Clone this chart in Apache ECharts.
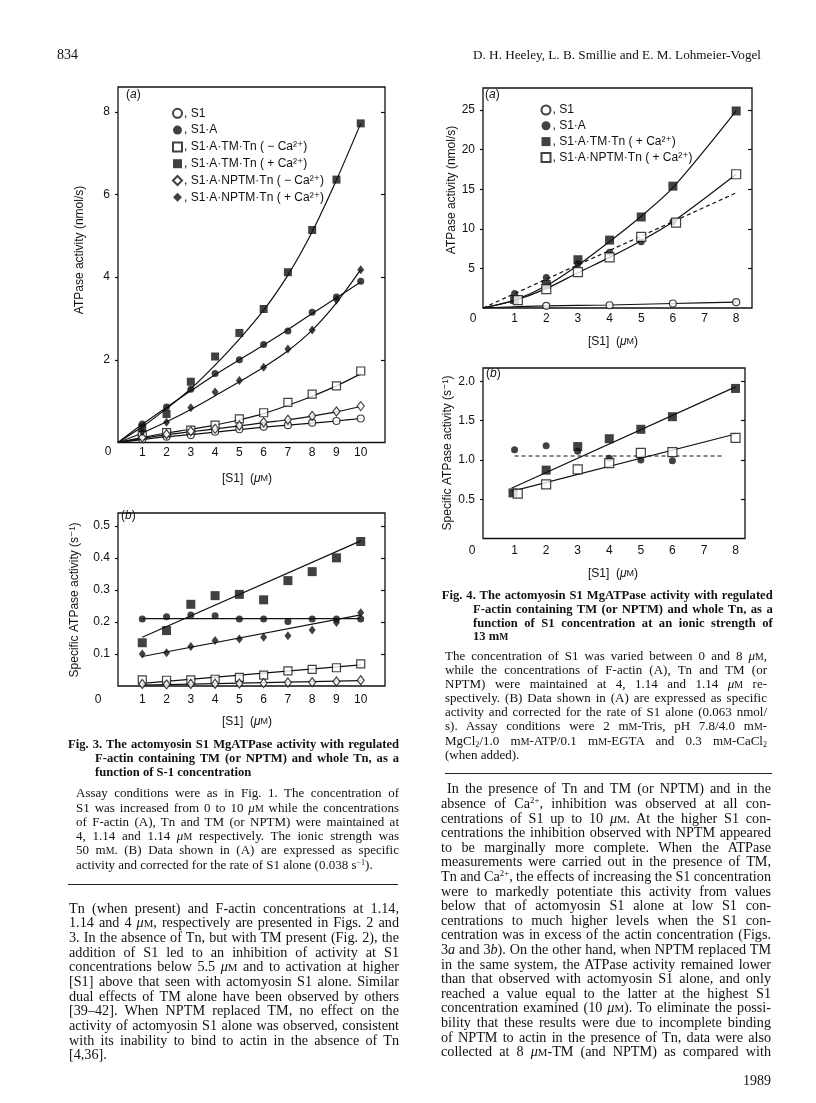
<!DOCTYPE html>
<html>
<head>
<meta charset="utf-8">
<script src="https://cdn.jsdelivr.net/npm/echarts@6/dist/echarts.min.js"></script>
<style>
html, body { margin: 0; padding: 0; background: #fff; }
#page { position: relative; width: 816px; height: 1103px; overflow: hidden; }
#chart { position: absolute; left: 0; top: 0; width: 816px; height: 1103px; }
#text { position: absolute; left: 0; top: 0; width: 816px; height: 1103px; pointer-events: none;
        font-family: "Liberation Serif", "DejaVu Serif", serif; color: #111; }
.ln { position: absolute; white-space: nowrap; }
.sc { font-size: 0.76em; }
sup { font-size: 0.62em; vertical-align: 0.55em; line-height: 0; }
sub { font-size: 0.62em; vertical-align: -0.3em; line-height: 0; }
.rule { position: absolute; height: 0; border-top: 1.5px solid #222; }
</style>
</head>
<body>
<div id="page">
  <div id="chart"></div>
  <div id="text"></div>
</div>
<script>
// ---------- Fig. 3(a): ATPase activity (nmol/s) vs [S1] ----------
const f3aS1    = [[1,0.08],[2,0.14],[3,0.18],[4,0.26],[5,0.32],[6,0.38],[7,0.42],[8,0.48],[9,0.52],[10,0.58]];
const f3aS1A   = [[1,0.45],[2,0.86],[3,1.29],[4,1.67],[5,2.0],[6,2.37],[7,2.70],[8,3.15],[9,3.52],[10,3.90]];
const f3aTMm   = [[1,0.17],[2,0.24],[3,0.30],[4,0.42],[5,0.57],[6,0.72],[7,0.97],[8,1.17],[9,1.37],[10,1.73]];
const f3aTMp   = [[1,0.36],[2,0.69],[3,1.47],[4,2.08],[5,2.65],[6,3.23],[7,4.12],[8,5.14],[9,6.36],[10,7.72]];
const f3aNPm   = [[1,0.12],[2,0.20],[3,0.27],[4,0.33],[5,0.41],[6,0.49],[7,0.55],[8,0.64],[9,0.75],[10,0.88]];
const f3aNPp   = [[1,0.26],[2,0.49],[3,0.84],[4,1.22],[5,1.50],[6,1.82],[7,2.26],[8,2.72],[9,3.45],[10,4.18]];
// curves as drawn in the figure
const c3aS1  = [[0,0],[1,0.07],[2,0.14],[3,0.19],[4,0.25],[5,0.31],[6,0.37],[7,0.42],[8,0.47],[9,0.52],[10,0.58]];
const c3aS1A = [[0,0],[1,0.44],[2,0.85],[3,1.25],[4,1.64],[5,2.0],[6,2.36],[7,2.73],[8,3.12],[9,3.5],[10,3.88]];
const c3aTMm = [[0,0],[1,0.12],[2,0.23],[3,0.32],[4,0.42],[5,0.55],[6,0.7],[7,0.9],[8,1.12],[9,1.37],[10,1.66]];
const c3aTMp = [[0,0],[1,0.38],[2,0.82],[3,1.3],[4,1.87],[5,2.5],[6,3.2],[7,4.05],[8,5.1],[9,6.35],[10,7.72]];
const c3aNPm = [[0,0],[1,0.1],[2,0.19],[3,0.26],[4,0.33],[5,0.4],[6,0.48],[7,0.55],[8,0.64],[9,0.74],[10,0.87]];
const c3aNPp = [[0,0],[1,0.23],[2,0.5],[3,0.8],[4,1.13],[5,1.47],[6,1.82],[7,2.22],[8,2.72],[9,3.38],[10,4.18]];

// ---------- Fig. 3(b): specific activity (s-1) ----------
const f3bS1A = [[1,0.209],[2,0.216],[3,0.222],[4,0.219],[5,0.209],[6,0.209],[7,0.201],[8,0.209],[9,0.209],[10,0.209]];
const f3bTMm = [[1,0.019],[2,0.018],[3,0.019],[4,0.021],[5,0.027],[6,0.034],[7,0.047],[8,0.052],[9,0.057],[10,0.069]];
const f3bTMp = [[1,0.135],[2,0.173],[3,0.255],[4,0.282],[5,0.286],[6,0.269],[7,0.329],[8,0.357],[9,0.40],[10,0.451]];
const f3bNPm = [[1,0.006],[2,0.005],[3,0.006],[4,0.007],[5,0.008],[6,0.009],[7,0.011],[8,0.012],[9,0.014],[10,0.018]];
const f3bNPp = [[1,0.10],[2,0.104],[3,0.123],[4,0.142],[5,0.147],[6,0.152],[7,0.157],[8,0.175],[9,0.198],[10,0.229]];
const l3bS1A = [[1,0.21],[10,0.21]];
const l3bTMm = [[1,0.008],[10,0.066]];
const l3bTMp = [[1,0.152],[10,0.453]];
const l3bNPm = [[1,0.003],[10,0.017]];
const l3bNPp = [[1,0.092],[10,0.222]];

// ---------- Fig. 4(a) ----------
const f4aS1  = [[2,0.27],[4,0.35],[6,0.57],[8,0.73]];
const f4aS1A = [[1,1.83],[2,3.86],[3,5.6],[4,7.06],[5,8.37],[6,10.9]];
const f4aTMp = [[1,1.07],[2,2.97],[3,6.1],[4,8.58],[5,11.5],[6,15.4],[8,24.9]];
const f4aNPp = [[1.1,0.99],[2,2.38],[3,4.53],[4,6.39],[5,9.0],[6.1,10.8],[8,16.9]];
const c4aS1  = [[0,0],[2,0.27],[4,0.38],[6,0.57],[8,0.73]];
const c4aS1A = [[0,0],[8,14.55]];
const c4aTMp = [[0,0],[1,1.0],[2,2.8],[3,5.4],[4,8.4],[5,11.6],[6,15.2],[8,24.9]];
const c4aNPp = [[0,0],[1,0.95],[2,2.45],[3,4.45],[4,6.4],[5,8.5],[6,10.9],[8,16.9]];

// ---------- Fig. 4(b) ----------
const f4bS1A = [[1,1.13],[2,1.18],[3,1.11],[4,1.02],[5,1.0],[6,0.99]];
const f4bTMp = [[0.95,0.58],[2,0.87],[3,1.17],[4,1.27],[5,1.39],[6,1.55],[8,1.91]];
const f4bNPp = [[1.1,0.57],[2,0.69],[3,0.88],[4,0.96],[5,1.09],[6,1.1],[8,1.28]];
const l4bS1A = [[1,1.05],[7.6,1.05]];
const l4bTMp = [[0.9,0.64],[8,1.93]];
const l4bNPp = [[0.9,0.6],[8,1.33]];

// tick labels
const x3Ticks  = [1,2,3,4,5,6,7,8,9,10];
const x4Ticks  = [1,2,3,4,5,6,7,8];
const y3aTicks = [2,4,6,8];
const y3bTicks = [0.1,0.2,0.3,0.4,0.5];
const y4aTicks = [5,10,15,20,25];
const y4bTicks = [0.5,1.0,1.5,2.0];

const ink = '#111';
const SANS = '"Liberation Sans", "DejaVu Sans", Arial, sans-serif';

function xAx(g, max, ticks, margin) {
  return {
    type: 'value', gridIndex: g, min: 0, max: max, interval: 1,
    axisLine: {show: false}, splitLine: {show: false},
    axisTick: {show: false},
    axisLabel: {customValues: ticks, margin: margin, color: ink, fontFamily: SANS, fontSize: 12,
      formatter: v => String(v)}
  };
}
function yAx(g, max, step, ticks, dec, right) {
  return {
    type: 'value', gridIndex: g, min: 0, max: max, interval: step, position: right ? 'right' : 'left',
    axisLine: {show: false}, splitLine: {show: false},
    axisTick: {show: true, customValues: ticks, inside: !!right, length: right ? 4 : 3,
      lineStyle: {color: ink, width: 1.2}},
    axisLabel: right ? {show: false} : {customValues: ticks, margin: 8, color: ink, fontFamily: SANS,
      fontSize: 12, formatter: v => v.toFixed(dec)}
  };
}

function pts(name, data, g, sym, size, empty) {
  return {
    type: 'scatter', name: name, data: data, xAxisIndex: g, yAxisIndex: g,
    symbol: sym, symbolSize: size, z: 5, silent: true,
    itemStyle: empty ? {color: '#fff', borderColor: ink, borderWidth: 1.2} : {color: ink}
  };
}
function curve(data, g, dashed, smooth) {
  return {
    type: 'line', data: data, xAxisIndex: g, yAxisIndex: g, symbol: 'none',
    smooth: smooth ? 0.3 : false, silent: true, z: 3,
    lineStyle: {color: ink, width: 1.2, type: dashed ? [4, 3] : 'solid'}
  };
}

function label(x, y, text, extra) {
  return Object.assign({
    type: 'text', x: x, y: y, silent: true,
    style: {
      text: text, fill: ink, fontFamily: SANS, fontSize: 12, align: 'center', verticalAlign: 'middle',
      rich: {i: {fontStyle: 'italic', fontFamily: SANS, fontSize: 12}, s: {fontSize: 9, fontFamily: SANS}}
    }
  }, extra || {});
}
function leftLabel(x, y, text) {
  const el = label(x, y, text);
  el.style.align = 'left';
  return el;
}
function yName(x, y, text) {
  return label(x, y, text, {rotation: Math.PI / 2});
}

const legendText = {fontSize: 12, fontFamily: SANS, color: ink, lineHeight: 14, padding: [0, 0, 0, -3]};
const grids = [
  {left: 118, top: 87,  width: 267, height: 355.5},
  {left: 118, top: 513, width: 267, height: 173},
  {left: 483, top: 88,  width: 269, height: 220},
  {left: 483, top: 368, width: 262, height: 170.5}
];
grids.forEach(g => { g.show = true; g.borderColor = ink; g.borderWidth = 1.3; g.backgroundColor = 'transparent'; });

const option = {
  animation: false,
  backgroundColor: '#fff',
  grid: grids,
  xAxis: [xAx(0, 11, x3Ticks, 4.5), xAx(1, 11, x3Ticks, 8), xAx(2, 8.5, x4Ticks, 5), xAx(3, 8.3, x4Ticks, 6)],
  yAxis: [
    yAx(0, 8.6, 2, y3aTicks, 0), yAx(1, 0.54, 0.1, y3bTicks, 1), yAx(2, 27.8, 5, y4aTicks, 0), yAx(3, 2.17, 0.5, y4bTicks, 1),
    yAx(0, 8.6, 2, y3aTicks, 0, true), yAx(1, 0.54, 0.1, y3bTicks, 1, true), yAx(2, 27.8, 5, y4aTicks, 0, true), yAx(3, 2.17, 0.5, y4bTicks, 1, true)
  ],
  legend: [
    {
      left: 172, top: 106.3, orient: 'vertical', padding: 0, itemWidth: 9, itemHeight: 9, itemGap: 2.8,
      selectedMode: false, textStyle: legendText, formatter: n => ', ' + n.split('|')[1],
      data: [
        {name: '3a|S1', icon: 'circle'},
        {name: '3a|S1·A', icon: 'circle'},
        {name: '3a|S1·A·TM·Tn ( − Ca²⁺)', icon: 'rect'},
        {name: '3a|S1·A·TM·Tn ( + Ca²⁺)', icon: 'rect'},
        {name: '3a|S1·A·NPTM·Tn ( − Ca²⁺)', icon: 'diamond'},
        {name: '3a|S1·A·NPTM·Tn ( + Ca²⁺)', icon: 'diamond'}
      ]
    },
    {
      left: 540.5, top: 103, orient: 'vertical', padding: 0, itemWidth: 9, itemHeight: 9, itemGap: 1.8,
      selectedMode: false, textStyle: legendText, formatter: n => ', ' + n.split('|')[1],
      data: [
        {name: '4a|S1', icon: 'circle'},
        {name: '4a|S1·A', icon: 'circle'},
        {name: '4a|S1·A·TM·Tn ( + Ca²⁺)', icon: 'rect'},
        {name: '4a|S1·A·NPTM·Tn ( + Ca²⁺)', icon: 'rect'}
      ]
    }
  ],
  series: [
    curve(c3aS1, 0, false, true), curve(c3aS1A, 0, false, true), curve(c3aTMm, 0, false, true),
    curve(c3aTMp, 0, false, true), curve(c3aNPm, 0, false, true), curve(c3aNPp, 0, false, true),
    pts('3a|S1', f3aS1, 0, 'circle', 7, true),
    pts('3a|S1·A', f3aS1A, 0, 'circle', 7, false),
    pts('3a|S1·A·TM·Tn ( − Ca²⁺)', f3aTMm, 0, 'rect', 8, true),
    pts('3a|S1·A·TM·Tn ( + Ca²⁺)', f3aTMp, 0, 'rect', 8, false),
    pts('3a|S1·A·NPTM·Tn ( − Ca²⁺)', f3aNPm, 0, 'diamond', [7, 9], true),
    pts('3a|S1·A·NPTM·Tn ( + Ca²⁺)', f3aNPp, 0, 'diamond', [7, 9], false),

    curve(l3bS1A, 1), curve(l3bTMm, 1), curve(l3bTMp, 1), curve(l3bNPm, 1), curve(l3bNPp, 1),
    pts('3b|S1·A', f3bS1A, 1, 'circle', 7, false),
    pts('3b|TM−', f3bTMm, 1, 'rect', 8, true),
    pts('3b|TM+', f3bTMp, 1, 'rect', 9, false),
    pts('3b|NPTM−', f3bNPm, 1, 'diamond', [7, 9], true),
    pts('3b|NPTM+', f3bNPp, 1, 'diamond', [7, 9], false),

    curve(c4aS1, 2, false, true), curve(c4aS1A, 2, true), curve(c4aTMp, 2, false, true), curve(c4aNPp, 2, false, true),
    pts('4a|S1', f4aS1, 2, 'circle', 7, true),
    pts('4a|S1·A', f4aS1A, 2, 'circle', 7, false),
    pts('4a|S1·A·TM·Tn ( + Ca²⁺)', f4aTMp, 2, 'rect', 9, false),
    pts('4a|S1·A·NPTM·Tn ( + Ca²⁺)', f4aNPp, 2, 'rect', 9, true),

    curve(l4bS1A, 3, true), curve(l4bTMp, 3), curve(l4bNPp, 3),
    pts('4b|S1·A', f4bS1A, 3, 'circle', 7, false),
    pts('4b|TM+', f4bTMp, 3, 'rect', 9, false),
    pts('4b|NPTM+', f4bNPp, 3, 'rect', 9, true)
  ],
  graphic: [
    leftLabel(126, 95, '({i|a})'), leftLabel(121, 516, '({i|b})'),
    leftLabel(485, 95, '({i|a})'), leftLabel(486, 374, '({i|b})'),
    label(108, 452, '0'), label(98, 700, '0'), label(473, 319, '0'), label(472, 551, '0'),
    label(247, 479, '[S1]  ({i|μ}{s|M})'), label(247, 722, '[S1]  ({i|μ}{s|M})'),
    label(613, 342, '[S1]  ({i|μ}{s|M})'), label(613, 574, '[S1]  ({i|μ}{s|M})'),
    yName(80, 250, 'ATPase activity (nmol/s)'), yName(75, 600, 'Specific ATPase activity (s⁻¹)'),
    yName(452, 190, 'ATPase activity (nmol/s)'), yName(448, 453, 'Specific ATPase activity (s⁻¹)')
  ]
};

const chart = echarts.init(document.getElementById('chart'), null, {renderer: 'canvas'});
chart.setOption(option);

// ---------- page text ----------
const UM = '<i>μ</i><span class="sc">M</span>';
const MM = 'm<span class="sc">M</span>';
const CA = 'Ca<sup>2+</sup>';

// x, width, first line centre y, line step, font px, bold, justify last line, lines
const blocks = [
  {x: 57, w: 0, y: 55, step: 14, size: 14, lines: ['834']},
  {x: 473, w: 288, y: 55, step: 14, size: 13.2, last: true, lines: ['D. H. Heeley, L. B. Smillie and E. M. Lohmeier-Vogel']},
  {x: 68, w: 331, y: 745, step: 14, size: 12.6, bold: true, last: true,
    lines: ['Fig. 3. The actomyosin S1 MgATPase activity with regulated']},
  {x: 95, w: 304, y: 759, step: 13.9, size: 12.6, bold: true,
    lines: ['F-actin containing TM (or NPTM) and whole Tn, as a', 'function of S-1 concentration']},
  {x: 76, w: 323, y: 793, step: 14.3, size: 13, lines: [
    'Assay conditions were as in Fig. 1. The concentration of',
    'S1 was increased from 0 to 10 ' + UM + ' while the concentrations',
    'of F-actin (A), Tn and TM (or NPTM) were maintained at',
    '4, 1.14 and 1.14 ' + UM + ' respectively. The ionic strength was',
    '50 ' + MM + '. (B) Data shown in (A) are expressed as specific',
    'activity and corrected for the rate of S1 alone (0.038 s<sup>−1</sup>).'
  ]},
  {x: 69, w: 330, y: 908.3, step: 14.67, size: 14.2, lines: [
    'Tn (when present) and F-actin concentrations at 1.14,',
    '1.14 and 4 ' + UM + ', respectively are presented in Figs. 2 and',
    '3. In the absence of Tn, but with TM present (Fig. 2), the',
    'addition of S1 led to an inhibition of activity at S1',
    'concentrations below 5.5 ' + UM + ' and to activation at higher',
    '[S1] above that seen with actomyosin S1 alone. Similar',
    'dual effects of TM alone have been observed by others',
    '[39–42]. When NPTM replaced TM, no effect on the',
    'activity of actomyosin S1 alone was observed, consistent',
    'with its inability to bind to actin in the absence of Tn',
    '[4,36].'
  ]},
  {x: 441.7, w: 331, y: 596, step: 13.6, size: 12.6, bold: true, last: true,
    lines: ['Fig. 4. The actomyosin S1 MgATPase activity with regulated']},
  {x: 473, w: 299.7, y: 609.6, step: 13.6, size: 12.6, bold: true, lines: [
    'F-actin containing TM (or NPTM) and whole Tn, as a',
    'function of S1 concentration at an ionic strength of',
    '13 ' + MM
  ]},
  {x: 445, w: 322, y: 655.7, step: 14.1, size: 13, lines: [
    'The concentration of S1 was varied between 0 and 8 ' + UM + ',',
    'while the concentrations of F-actin (A), Tn and TM (or',
    'NPTM) were maintained at 4, 1.14 and 1.14 ' + UM + ' re-',
    'spectively. (B) Data shown in (A) are expressed as specific',
    'activity and corrected for the rate of S1 alone (0.063 nmol/',
    's). Assay conditions were 2 ' + MM + '-Tris, pH 7.8/4.0 ' + MM + '-',
    'MgCl<sub>2</sub>/1.0 ' + MM + '-ATP/0.1 ' + MM + '-EGTA and 0.3 ' + MM + '-CaCl<sub>2</sub>',
    '(when added).'
  ]},
  {x: 441, w: 330, y: 789, step: 14.6, size: 14.2, last: true, indent: 6, lines: [
    'In the presence of Tn and TM (or NPTM) and in the',
    'absence of ' + CA + ', inhibition was observed at all con-',
    'centrations of S1 up to 10 ' + UM + '. At the higher S1 con-',
    'centrations the inhibition observed with NPTM appeared',
    'to be marginally more complete. When the ATPase',
    'measurements were carried out in the presence of TM,',
    'Tn and ' + CA + ', the effects of increasing the S1 concentration',
    'were to markedly potentiate this activity from values',
    'below that of actomyosin S1 alone at low S1 con-',
    'centrations to much higher levels when the S1 con-',
    'centration was in excess of the actin concentration (Figs.',
    '3<i>a</i> and 3<i>b</i>). On the other hand, when NPTM replaced TM',
    'in the same system, the ATPase activity remained lower',
    'than that observed with actomyosin S1 alone, and only',
    'reached a value equal to the latter at the highest S1',
    'concentration examined (10 ' + UM + '). To eliminate the possi-',
    'bility that these results were due to incomplete binding',
    'of NPTM to actin in the presence of Tn, data were also',
    'collected at 8 ' + UM + '-TM (and NPTM) as compared with'
  ]}
];

const holder = document.getElementById('text');
blocks.forEach(b => {
  b.lines.forEach((html, i) => {
    const div = document.createElement('div');
    div.className = 'ln';
    const x = b.x + (i === 0 && b.indent ? b.indent : 0);
    const w = b.w ? b.w - (i === 0 && b.indent ? b.indent : 0) : 0;
    div.style.left = x + 'px';
    div.style.top = (b.y + i * b.step - 0.6 * b.size) + 'px';
    div.style.fontSize = b.size + 'px';
    div.style.lineHeight = (1.2 * b.size) + 'px';
    if (b.bold) div.style.fontWeight = 'bold';
    const span = document.createElement('span');
    span.innerHTML = html;
    div.appendChild(span);
    holder.appendChild(div);
    const isLast = i === b.lines.length - 1;
    if (w && (!isLast || b.last)) {
      const nat = span.getBoundingClientRect().width;
      const spaces = (span.textContent.match(/ /g) || []).length;
      if (spaces) span.style.wordSpacing = ((w - nat) / spaces) + 'px';
    }
  });
});

const yr = document.createElement('div');
yr.className = 'ln';
yr.style.left = '720px';
yr.style.width = '51px';
yr.style.textAlign = 'right';
yr.style.fontSize = '14px';
yr.style.lineHeight = '16.8px';
yr.style.top = (1081.7 - 8.4) + 'px';
yr.textContent = '1989';
holder.appendChild(yr);

[[68, 884, 330], [445, 772.7, 327]].forEach(r => {
  const d = document.createElement('div');
  d.className = 'rule';
  d.style.left = r[0] + 'px';
  d.style.top = r[1] + 'px';
  d.style.width = r[2] + 'px';
  holder.appendChild(d);
});
</script>
</body>
</html>
